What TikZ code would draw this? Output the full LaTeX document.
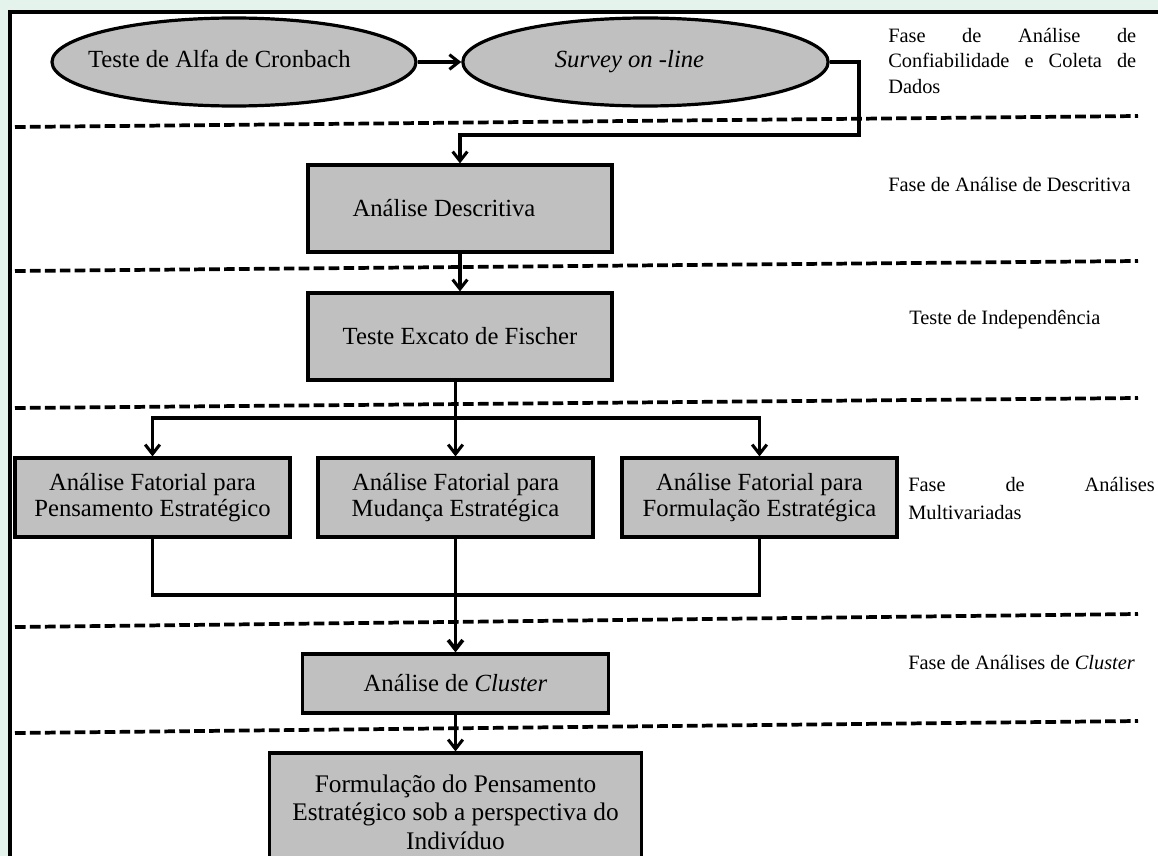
\documentclass[tikz,border=0pt]{standalone}
\usepackage{fontspec}
\setmainfont{Liberation Serif}
\usetikzlibrary{shapes.geometric,arrows.meta}
\definecolor{bgmint}{HTML}{E4F4EC}
\definecolor{boxgray}{HTML}{C0C0C0}
\newcommand{\txtshiftleft}[1]{\hspace*{-#1}}
\begin{document}
\begin{tikzpicture}[x=0.75pt,y=-0.75pt,
  boxfont/.style={font=\fontsize{18.5}{19.5}\selectfont},
  phasefont/.style={font=\fontsize{15.3}{19}\selectfont},
  procbox/.style={draw=black, line width=2.4pt, fill=boxgray, rectangle, inner sep=0pt, align=center, boxfont},
  ovalbox/.style={draw=black, line width=2.4pt, fill=boxgray, ellipse, inner sep=0pt, boxfont, text height=0.88em, text depth=0.08em},
  conn/.style={line width=2.3pt},
  arr/.style={conn, -{Straight Barb[length=7pt,width=11pt]}},
  sepline/.style={line width=2.8pt, dash pattern=on 8pt off 3.2pt},
  phase/.style={phasefont, inner sep=0pt, anchor=west},
]
\useasboundingbox (0,0) rectangle (1158,856);
\clip (0,0) rectangle (1158,856);
\fill[bgmint] (0,0) rectangle (1158,856);
\fill[white] (10,12) rectangle (1170,870);
\draw[line width=2.4pt] (10,870) -- (10,12) -- (1170,12);

% separators
\draw[sepline] (15,127) -- (1138,116);
\draw[sepline] (15,271) -- (1138,261);
\draw[sepline] (15,408) -- (1138,398);
\draw[sepline] (15,627) -- (1138,614);
\draw[sepline] (15,733) -- (1138,721);

% process nodes
\node[ovalbox, minimum width=273pt, minimum height=66pt] (e1) at (234,62) {\txtshiftleft{22pt}Teste de Alfa de Cronbach};
\node[ovalbox, minimum width=274pt, minimum height=66pt] (e2) at (645.5,62) {\txtshiftleft{24pt}\textit{Survey on -line}};
\node[procbox, minimum width=228pt, minimum height=65.25pt] (b1) at (460,208.5) {\txtshiftleft{24pt}Análise Descritiva};
\node[procbox, minimum width=228pt, minimum height=65.25pt] (b2) at (460,336.5) {Teste Excato de Fischer};
\node[procbox, minimum width=206.25pt, minimum height=59.25pt] (f1) at (152.5,497.5) {Análise Fatorial para\\Pensamento Estratégico};
\node[procbox, minimum width=206.25pt, minimum height=59.25pt] (f2) at (455.5,497.5) {Análise Fatorial para\\Mudança Estratégica};
\node[procbox, minimum width=206.25pt, minimum height=59.25pt] (f3) at (759.5,497.5) {Análise Fatorial para\\Formulação Estratégica};
\node[procbox, minimum width=230pt, minimum height=44.25pt] (cl) at (455.5,683.5) {Análise de \textit{Cluster}};
\node[procbox, minimum width=279pt, minimum height=88.5pt, font=\fontsize{19}{21.4}\selectfont] (fin) at (455.5,812) {Formulação do Pensamento\\Estratégico sob a perspectiva do\\Indivíduo};

% phase labels
\node[phase, text width=186pt] (p1) at (888,61) {Fase\hfill de\hfill Análise\hfill de\\Confiabilidade\hfill e\hfill Coleta\hfill de\\Dados};
\node[phase] (p2) at (888,185) {Fase de Análise de Descritiva};
\node[phase] (p3) at (909,320) {Teste de Independência};
\node[phase, text width=185pt, font=\fontsize{15.3}{21}\selectfont] (p4) at (908,499) {Fase\hfill de\hfill Análises\\Multivariadas};
\node[phase] (p5) at (908,663) {Fase de Análises de \textit{Cluster}};

% connectors
\draw[arr] (e1.east) -- (e2.west);
\coordinate (k1) at (859,135);
\draw[arr] (e2.east) -| (k1) -| (b1.north);
\draw[arr] (b1.south) -- (b2.north);
\coordinate (j1) at (455.5,418);
\draw[conn] (b2.south -| j1) -- (j1);
\draw[arr] (j1) -| (f1.north);
\draw[arr] (j1) -| (f3.north);
\draw[arr] (j1) -- (f2.north);
\coordinate (j2) at (455.5,595);
\draw[conn] (f1.south) |- (j2);
\draw[conn] (f3.south) |- (j2);
\draw[conn] (f2.south) -- (j2);
\draw[arr, line width=2.8pt] (j2) -- (cl.north);
\draw[arr] (cl.south) -- (fin.north);
\end{tikzpicture}
\end{document}
